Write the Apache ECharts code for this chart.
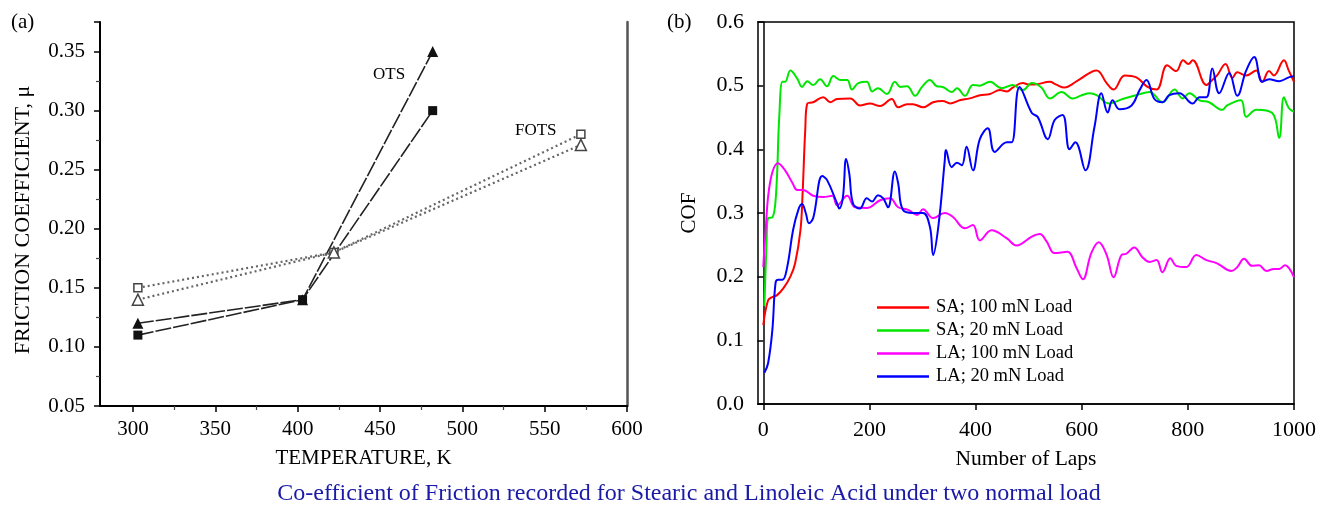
<!DOCTYPE html>
<html><head><meta charset="utf-8">
<script src="https://cdn.jsdelivr.net/npm/echarts@6/dist/echarts.min.js"></script>
<style>html,body{margin:0;padding:0;background:#fff}#c{width:1319px;height:506px}</style>
</head><body><div id="c"></div>
<script>
// ---- Panel (a): friction coefficient vs temperature ----
const otsTriangle = [[303,0.12],[403,0.14],[482,0.35]];
const otsSquare = [[303,0.11],[403,0.14],[482,0.30]];
const fotsSquare = [[303,0.15],[422,0.18],[572,0.28]];
const fotsTriangle = [[303,0.14],[422,0.18],[572,0.271]];
const tempTicks = [300,350,400,450,500,550,600];

// ---- Panel (b): COF vs number of laps ----
const legendNames = ['SA; 100 mN Load','SA; 20 mN Load','LA; 100 mN Load','LA; 20 mN Load'];
const lapTicks = [0,200,400,600,800,1000];
const sa100 = [[0,0.124],[9,0.163],[17,0.168],[26,0.171],[38,0.182],[51,0.200],[60,0.221],[70,0.273],[74,0.33],[79,0.43],[83,0.472],[94,0.474],[113,0.482],[126,0.474],[139,0.479],[164,0.480],[182,0.469],[201,0.472],[220,0.468],[242,0.479],[254,0.466],[271,0.471],[282,0.471],[301,0.466],[320,0.474],[338,0.476],[352,0.472],[370,0.477],[389,0.480],[408,0.485],[427,0.487],[446,0.493],[459,0.491],[470,0.497],[489,0.504],[500,0.502],[511,0.502],[540,0.506],[551,0.502],[568,0.497],[583,0.503],[596,0.510],[628,0.524],[647,0.504],[660,0.494],[681,0.516],[703,0.513],[724,0.498],[741,0.494],[761,0.532],[778,0.523],[791,0.540],[801,0.534],[809,0.540],[835,0.501],[846,0.509],[855,0.516],[871,0.534],[884,0.512],[893,0.521],[910,0.516],[929,0.524],[940,0.506],[953,0.523],[962,0.516],[981,0.540],[990,0.524],[1000,0.506]];
const sa20 = [[2,0.154],[6,0.25],[9,0.292],[17,0.293],[24,0.33],[30,0.45],[36,0.506],[41,0.506],[51,0.524],[64,0.511],[73,0.498],[83,0.507],[94,0.501],[107,0.510],[120,0.499],[132,0.515],[145,0.509],[158,0.509],[167,0.494],[179,0.504],[195,0.506],[205,0.491],[216,0.496],[233,0.487],[248,0.506],[258,0.498],[271,0.499],[286,0.484],[299,0.498],[314,0.509],[327,0.499],[338,0.498],[355,0.490],[365,0.496],[380,0.484],[395,0.501],[408,0.500],[427,0.506],[449,0.496],[470,0.501],[489,0.493],[506,0.504],[524,0.497],[540,0.480],[562,0.490],[583,0.480],[600,0.485],[615,0.488],[628,0.485],[652,0.472],[677,0.479],[703,0.485],[728,0.490],[752,0.474],[775,0.494],[790,0.480],[803,0.488],[822,0.477],[840,0.474],[865,0.462],[874,0.469],[900,0.477],[910,0.451],[929,0.462],[959,0.457],[972,0.418],[981,0.482],[990,0.465],[1000,0.459]];
const la100 = [[0,0.215],[4,0.268],[13,0.349],[28,0.378],[41,0.367],[55,0.347],[64,0.336],[75,0.336],[94,0.327],[113,0.325],[130,0.327],[139,0.312],[158,0.327],[173,0.309],[195,0.308],[220,0.320],[239,0.323],[254,0.309],[273,0.305],[290,0.297],[301,0.306],[320,0.292],[342,0.300],[357,0.294],[380,0.276],[395,0.281],[408,0.257],[430,0.273],[459,0.260],[477,0.249],[506,0.263],[521,0.267],[534,0.255],[549,0.237],[573,0.239],[590,0.214],[602,0.196],[618,0.237],[632,0.254],[647,0.234],[660,0.199],[675,0.234],[684,0.236],[699,0.246],[714,0.231],[728,0.223],[741,0.226],[752,0.207],[767,0.229],[778,0.217],[797,0.215],[816,0.234],[835,0.226],[855,0.221],[882,0.209],[893,0.215],[906,0.228],[921,0.217],[934,0.218],[948,0.209],[962,0.212],[972,0.212],[983,0.218],[1000,0.199]];
const la20 = [[2,0.049],[9,0.064],[17,0.116],[23,0.19],[28,0.195],[36,0.195],[45,0.215],[56,0.273],[66,0.305],[73,0.314],[80,0.300],[86,0.284],[94,0.292],[111,0.358],[120,0.352],[139,0.315],[143,0.307],[150,0.325],[156,0.385],[162,0.362],[169,0.315],[182,0.307],[195,0.323],[205,0.318],[216,0.328],[226,0.323],[235,0.309],[248,0.365],[254,0.347],[263,0.305],[282,0.300],[301,0.300],[314,0.278],[320,0.234],[330,0.28],[342,0.383],[344,0.399],[355,0.372],[365,0.379],[374,0.375],[383,0.404],[395,0.367],[408,0.416],[423,0.433],[436,0.396],[459,0.411],[468,0.411],[483,0.498],[506,0.457],[517,0.451],[536,0.416],[549,0.446],[564,0.454],[577,0.400],[588,0.411],[607,0.367],[624,0.435],[637,0.488],[649,0.458],[658,0.477],[671,0.463],[694,0.469],[709,0.493],[722,0.509],[737,0.479],[752,0.474],[765,0.485],[784,0.488],[809,0.472],[822,0.482],[835,0.482],[846,0.527],[859,0.488],[878,0.520],[893,0.484],[910,0.524],[925,0.545],[940,0.506],[953,0.510],[972,0.507],[990,0.513],[1000,0.515]];
const lineColors = ['#ff0000','#00e600','#ff00ff','#0000ff'];

const serif = '"Liberation Serif","Times New Roman",Times,serif';
const chart = echarts.init(document.getElementById('c'), null, {renderer:'canvas'});

const txt = (size) => ({fontFamily: serif, fontSize: size, color: '#000'});

const option = {
  animation: false,
  backgroundColor: '#fff',
  grid: [
    {left: 100, top: 22, width: 527, height: 384},
    {left: 758, top: 22, width: 537, height: 382, show: true, borderColor: '#000', borderWidth: 1.5}
  ],
  xAxis: [
    {gridIndex: 0, type: 'value', min: 280, max: 600, splitNumber: 6,
     name: 'TEMPERATURE, K', nameLocation: 'middle', nameGap: 42, nameTextStyle: txt(21),
     axisLine: {lineStyle: {color: '#000', width: 2}},
     axisTick: {length: 6, lineStyle: {color: '#000', width: 1.5}, customValues: tempTicks},
     minorTick: {show: true, splitNumber: 2, length: 4, lineStyle: {color: '#444', width: 1.2}},
     splitLine: {show: false},
     axisLabel: Object.assign({margin: 13, customValues: tempTicks, formatter: v => String(v)}, txt(21))},
    {gridIndex: 1, type: 'value', min: -10, max: 1000,
     name: 'Number of Laps', nameLocation: 'middle', nameGap: 44, nameTextStyle: txt(21.5),
     axisLine: {onZero: false, lineStyle: {color: '#000', width: 1.5}},
     axisTick: {length: 6, lineStyle: {color: '#000', width: 1.5}, customValues: lapTicks},
     splitLine: {show: false},
     axisLabel: Object.assign({margin: 15, customValues: lapTicks, formatter: v => String(v)}, txt(22))}
  ],
  yAxis: [
    {gridIndex: 0, type: 'value', min: 0.05, max: 0.375, interval: 0.05,
     name: 'FRICTION COEFFICIENT, μ', nameLocation: 'middle', nameGap: 66, nameTextStyle: Object.assign({padding: [0, 12, 0, 0]}, txt(22)),
     axisLine: {show: true, lineStyle: {color: '#000', width: 2}},
     axisTick: {show: true, length: 6, lineStyle: {color: '#000', width: 1.5}},
     minorTick: {show: true, splitNumber: 2, length: 4, lineStyle: {color: '#444', width: 1.2}},
     splitLine: {show: false},
     axisLabel: Object.assign({margin: 15, showMaxLabel: false, formatter: v => v.toFixed(2)}, txt(21))},
    {gridIndex: 0, type: 'value', position: 'right', min: 0.05, max: 0.375,
     axisLine: {show: true, lineStyle: {color: '#555', width: 2.5}},
     axisTick: {show: false}, axisLabel: {show: false}, splitLine: {show: false}},
    {gridIndex: 1, type: 'value', min: 0, max: 0.6, interval: 0.1,
     name: 'COF', nameLocation: 'middle', nameGap: 58, nameTextStyle: txt(21),
     axisLine: {show: true, lineStyle: {color: '#000', width: 1.5}},
     axisTick: {show: true, length: 6, lineStyle: {color: '#000', width: 1.5}},
     splitLine: {show: false},
     axisLabel: Object.assign({margin: 14, formatter: v => v.toFixed(1)}, txt(22))}
  ],
  legend: {
    left: 872, top: 293, orient: 'vertical', data: legendNames,
    icon: 'rect', itemWidth: 52, itemHeight: 2.5, itemGap: 4,
    textStyle: {fontFamily: serif, fontSize: 18.5, color: '#000', padding: [0, 0, 0, 2], lineHeight: 18}
  },
  graphic: [
    {type: 'text', left: 11, top: 12, style: {text: '(a)', font: '21px ' + serif, fill: '#000'}},
    {type: 'text', left: 667, top: 12, style: {text: '(b)', font: '21px ' + serif, fill: '#000'}},
    {type: 'text', left: 373, top: 66, style: {text: 'OTS', font: '17px ' + serif, fill: '#000'}},
    {type: 'text', left: 515, top: 122, style: {text: 'FOTS', font: '17px ' + serif, fill: '#000'}},
    {type: 'text', x: 689, y: 494, style: {text: 'Co-efficient of Friction recorded for Stearic and Linoleic Acid under two normal load', font: '24px ' + serif, fill: '#1a1aa6', textAlign: 'center', textVerticalAlign: 'middle'}}
  ],
  series: [
    {type: 'line', name: 'OTS-tri', xAxisIndex: 0, yAxisIndex: 0, data: otsTriangle,
     symbol: 'triangle', symbolSize: 11, itemStyle: {color: '#111'},
     lineStyle: {color: '#222', width: 1.6, type: [16, 2]}},
    {type: 'line', name: 'OTS-sq', xAxisIndex: 0, yAxisIndex: 0, data: otsSquare,
     symbol: 'rect', symbolSize: 9, itemStyle: {color: '#111'},
     lineStyle: {color: '#222', width: 1.6, type: [16, 2]}},
    {type: 'line', name: 'FOTS-sq', xAxisIndex: 0, yAxisIndex: 0, data: fotsSquare,
     symbol: 'rect', symbolSize: 8, itemStyle: {color: '#fff', borderColor: '#444', borderWidth: 1.5},
     lineStyle: {color: '#666', width: 2.2, type: [2, 3]}},
    {type: 'line', name: 'FOTS-tri', xAxisIndex: 0, yAxisIndex: 0, data: fotsTriangle,
     symbol: 'triangle', symbolSize: 11, itemStyle: {color: '#fff', borderColor: '#444', borderWidth: 1.5},
     lineStyle: {color: '#666', width: 2.2, type: [2, 3]}},
    {type: 'line', name: legendNames[0], xAxisIndex: 1, yAxisIndex: 2, data: sa100, symbol: 'none', smooth: 0.4,
     itemStyle: {color: lineColors[0]}, lineStyle: {color: lineColors[0], width: 2}},
    {type: 'line', name: legendNames[1], xAxisIndex: 1, yAxisIndex: 2, data: sa20, symbol: 'none', smooth: 0.4,
     itemStyle: {color: lineColors[1]}, lineStyle: {color: lineColors[1], width: 2}},
    {type: 'line', name: legendNames[2], xAxisIndex: 1, yAxisIndex: 2, data: la100, symbol: 'none', smooth: 0.4,
     itemStyle: {color: lineColors[2]}, lineStyle: {color: lineColors[2], width: 2}},
    {type: 'line', name: legendNames[3], xAxisIndex: 1, yAxisIndex: 2, data: la20, symbol: 'none', smooth: 0.4,
     itemStyle: {color: lineColors[3]}, lineStyle: {color: lineColors[3], width: 2}}
  ]
};
chart.setOption(option);
</script>
</body></html>
